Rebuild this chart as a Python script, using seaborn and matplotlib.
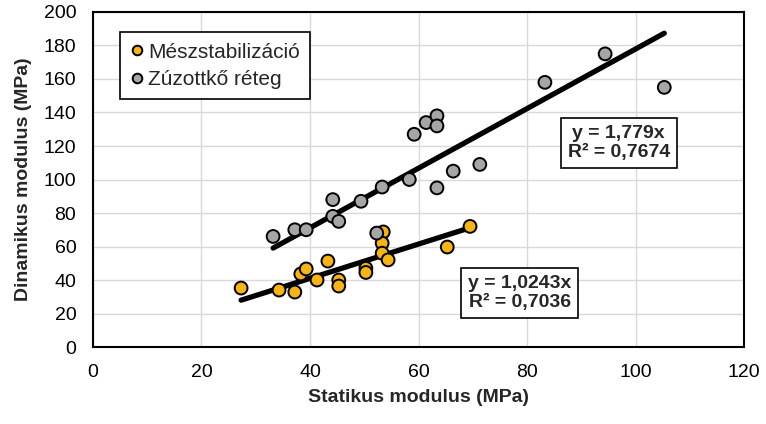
import pandas as pd
import seaborn as sns
import matplotlib.pyplot as plt
import numpy as np

# Data
mesz_x = [27.3, 34.3, 37.2, 38.3, 39.3, 41.3, 43.3, 45.3, 45.3, 50.3, 50.3, 53.5, 53.3, 53.3, 54.4, 65.3, 69.5]
mesz_y = [35.2, 34.0, 32.8, 43.6, 46.6, 40.0, 51.3, 40.0, 36.4, 47.0, 44.5, 68.7, 62.0, 56.0, 52.0, 59.7, 72.0]
zuz_x = [33.2, 37.2, 39.3, 44.2, 45.3, 44.2, 49.4, 52.3, 53.3, 58.3, 59.2, 61.4, 63.4, 63.4, 63.4, 66.4, 71.3, 83.3, 94.4, 105.3]
zuz_y = [66.0, 70.0, 70.0, 78.0, 75.0, 88.0, 87.0, 68.0, 95.5, 100.0, 127.0, 134.0, 138.0, 132.0, 95.0, 105.0, 109.0, 158.0, 175.0, 155.0]
series = ["Mészstabilizáció", "Zúzottkő réteg"]
slopes = [1.0243, 1.779]
r2 = ["0,7036", "0,7674"]
slope_txt = ["1,0243", "1,779"]

df = pd.concat([
    pd.DataFrame({"x": mesz_x, "y": mesz_y, "anyag": series[0]}),
    pd.DataFrame({"x": zuz_x, "y": zuz_y, "anyag": series[1]}),
])

sns.set_theme(style="whitegrid")
plt.rcParams['font.family'] = ['Liberation Sans', 'DejaVu Sans']

fig = plt.figure(figsize=(7.66, 4.24), dpi=100)
ax = fig.add_axes([0.1214, 0.1816, 0.8499, 0.7901])

colors = {series[0]: "#f4b41a", series[1]: "#a6a6a6"}

# trend lines y = a*x over each series' x range
for name, a in zip(series, slopes):
    xs = df.loc[df["anyag"] == name, "x"]
    xr = np.array([xs.min(), xs.max()])
    ax.plot(xr, a * xr, color="black", lw=3.8, zorder=3, solid_capstyle="round")

sns.scatterplot(data=df, x="x", y="y", hue="anyag", palette=colors, s=85,
                edgecolor="black", linewidth=1.4, ax=ax, zorder=4, legend=True)

ax.set_xlim(0, 120)
ax.set_ylim(0, 200)
ax.set_xticks(np.arange(0, 121, 20))
ax.set_yticks(np.arange(0, 201, 20))
ax.grid(True, color="#d9d9d9", lw=1.0)
ax.set_axisbelow(True)
for sp in ax.spines.values():
    sp.set_color("black")
    sp.set_linewidth(1.5)
ax.tick_params(labelsize=14, colors="black", pad=6)

ax.set_xlabel("Statikus modulus (MPa)", fontsize=14, fontweight="bold", labelpad=6)
ax.set_ylabel("Dinamikus modulus (MPa)", fontsize=14, fontweight="bold", labelpad=8)

leg = ax.legend(loc="upper left", bbox_to_anchor=(0.0415, 0.94), borderaxespad=0,
                fontsize=15, frameon=True, fancybox=False, edgecolor="black",
                framealpha=1, handlelength=0.6, handletextpad=0.25,
                labelspacing=0.4, borderpad=0.5, markerscale=0.75)
leg.get_frame().set_linewidth(1.2)

# equation boxes
box = dict(boxstyle="square,pad=0.35", fc="white", ec="black", lw=1.2)
ax.text(96.9, 121.8, f"y = {slope_txt[1]}x\nR² = {r2[1]}", ha="center", va="center",
        fontsize=14, fontweight="bold", bbox=box, linespacing=1.2, zorder=5)
ax.text(78.7, 32.2, f"y = {slope_txt[0]}x\nR² = {r2[0]}", ha="center", va="center",
        fontsize=14, fontweight="bold", bbox=box, linespacing=1.2, zorder=5)

fig.savefig("out.png", dpi=100)
